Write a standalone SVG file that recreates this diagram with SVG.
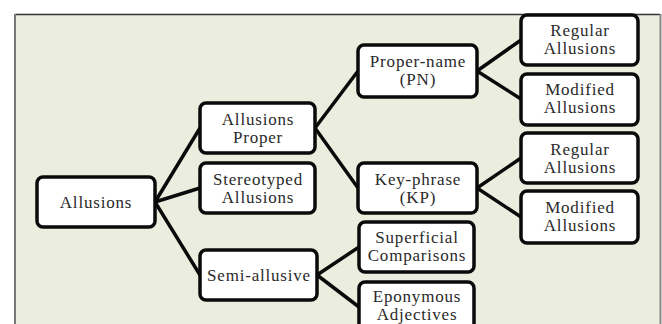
<svg xmlns="http://www.w3.org/2000/svg" width="662" height="324" viewBox="0 0 662 324">
<style>
.box{fill:#ffffff;stroke:#0a0a0a;stroke-width:3.5}
.t{font-family:"Liberation Serif","Times New Roman",serif;font-size:17px;letter-spacing:0.8px;fill:#2a2a2a;text-anchor:middle}
.c{stroke:#0a0a0a;stroke-width:3.5;fill:none;stroke-linecap:round}
</style>
<rect x="0" y="0" width="662" height="324" fill="#ffffff"/>
<rect x="15" y="14" width="645" height="312" fill="#EBEEDE"/>
<line x1="15" y1="14.5" x2="660" y2="14.5" stroke="#333" stroke-width="1.5"/>
<line x1="15" y1="14" x2="15" y2="324" stroke="#777" stroke-width="2"/>
<line x1="660.5" y1="14" x2="660.5" y2="324" stroke="#888" stroke-width="2"/>
<g id="connectors">
<line class="c" x1="155" y1="202" x2="200" y2="128"/>
<line class="c" x1="155" y1="202" x2="200" y2="188"/>
<line class="c" x1="155" y1="202" x2="200" y2="275"/>
<line class="c" x1="315" y1="128" x2="358" y2="71"/>
<line class="c" x1="315" y1="128" x2="358" y2="188"/>
<line class="c" x1="317" y1="275" x2="359" y2="247"/>
<line class="c" x1="317" y1="275" x2="359" y2="307"/>
<line class="c" x1="477" y1="71" x2="521" y2="40"/>
<line class="c" x1="477" y1="71" x2="521" y2="99"/>
<line class="c" x1="477" y1="188" x2="521" y2="158"/>
<line class="c" x1="477" y1="188" x2="521" y2="217"/>
</g>
<g id="allusions"><rect class="box" x="37" y="177" width="118" height="50" rx="6"/><text class="t" x="96" y="208">Allusions</text></g>
<g id="allusions-proper"><rect class="box" x="200" y="103" width="115" height="50" rx="6"/><text class="t" x="258" y="125">Allusions</text><text class="t" x="258" y="143">Proper</text></g>
<g id="stereotyped"><rect class="box" x="200" y="163" width="115" height="50" rx="6"/><text class="t" x="258" y="185">Stereotyped</text><text class="t" x="258" y="203">Allusions</text></g>
<g id="semi-allusive"><rect class="box" x="200" y="250" width="117" height="50" rx="6"/><text class="t" x="259" y="281">Semi-allusive</text></g>
<g id="proper-name"><rect class="box" x="358" y="45" width="119" height="52" rx="6"/><text class="t" x="418" y="67">Proper-name</text><text class="t" x="418" y="85">(PN)</text></g>
<g id="key-phrase"><rect class="box" x="358" y="163" width="119" height="50" rx="6"/><text class="t" x="418" y="185">Key-phrase</text><text class="t" x="418" y="203">(KP)</text></g>
<g id="superficial"><rect class="box" x="359" y="222" width="115" height="50" rx="6"/><text class="t" x="417" y="243">Superficial</text><text class="t" x="417" y="261">Comparisons</text></g>
<g id="eponymous"><rect class="box" x="359" y="282" width="115" height="50" rx="6"/><text class="t" x="417" y="302">Eponymous</text><text class="t" x="417" y="320">Adjectives</text></g>
<g id="pn-regular"><rect class="box" x="521" y="15" width="117" height="50" rx="6"/><text class="t" x="580" y="36">Regular</text><text class="t" x="580" y="54">Allusions</text></g>
<g id="pn-modified"><rect class="box" x="521" y="74" width="117" height="51" rx="6"/><text class="t" x="580" y="95">Modified</text><text class="t" x="580" y="113">Allusions</text></g>
<g id="kp-regular"><rect class="box" x="521" y="133" width="117" height="50" rx="6"/><text class="t" x="580" y="155">Regular</text><text class="t" x="580" y="173">Allusions</text></g>
<g id="kp-modified"><rect class="box" x="521" y="191" width="117" height="52" rx="6"/><text class="t" x="580" y="213">Modified</text><text class="t" x="580" y="231">Allusions</text></g>
</svg>
